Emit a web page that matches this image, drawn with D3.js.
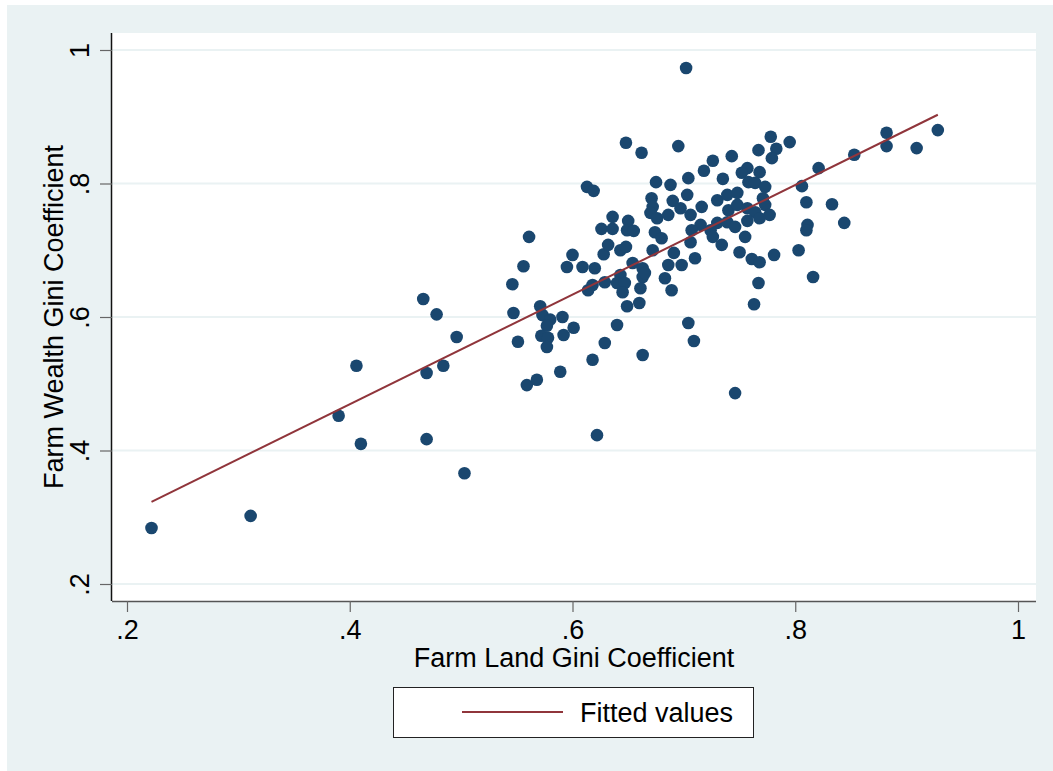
<!DOCTYPE html>
<html>
<head>
<meta charset="utf-8">
<script src="https://cdn.jsdelivr.net/npm/d3@7"></script>
<style>
  html, body { margin: 0; padding: 0; background: #fff; }
  svg { display: block; font-family: 'Liberation Sans', Arial, sans-serif; }
</style>
</head>
<body>
<div id="chart"></div>
<script>
// farm land gini (x) and farm wealth gini (y), one entry per observation
const landGini = [
  0.222, 0.311, 0.390, 0.406, 0.410, 0.466, 0.469, 0.469, 0.478, 0.484,
  0.496, 0.503, 0.561, 0.556, 0.546, 0.547, 0.571, 0.573, 0.580, 0.577,
  0.551, 0.572, 0.578, 0.577, 0.559, 0.568, 0.589, 0.591, 0.592, 0.601,
  0.600, 0.628, 0.643, 0.595, 0.609, 0.620, 0.654, 0.663, 0.663, 0.629,
  0.643, 0.640, 0.618, 0.614, 0.647, 0.645, 0.661, 0.649, 0.660, 0.640,
  0.629, 0.663, 0.618, 0.648, 0.662, 0.613, 0.619, 0.636, 0.650, 0.626,
  0.636, 0.649, 0.655, 0.632, 0.648, 0.695, 0.726, 0.743, 0.718, 0.704,
  0.675, 0.688, 0.735, 0.703, 0.671, 0.690, 0.730, 0.739, 0.748, 0.672,
  0.697, 0.716, 0.740, 0.748, 0.670, 0.676, 0.686, 0.706, 0.730, 0.715,
  0.739, 0.746, 0.707, 0.724, 0.674, 0.680, 0.706, 0.726, 0.734, 0.672,
  0.691, 0.710, 0.750, 0.686, 0.698, 0.665, 0.683, 0.689, 0.704, 0.709,
  0.778, 0.795, 0.767, 0.783, 0.779, 0.757, 0.768, 0.752, 0.758, 0.764,
  0.773, 0.771, 0.773, 0.757, 0.764, 0.777, 0.768, 0.757, 0.755, 0.761,
  0.768, 0.781, 0.803, 0.767, 0.816, 0.763, 0.928, 0.882, 0.882, 0.909,
  0.853, 0.821, 0.806, 0.810, 0.833, 0.844, 0.811, 0.810, 0.702, 0.746,
  0.622
];
const wealthGini = [
  0.284, 0.302, 0.452, 0.527, 0.410, 0.627, 0.516, 0.417, 0.604, 0.527,
  0.570, 0.366, 0.720, 0.676, 0.649, 0.606, 0.616, 0.603, 0.596, 0.587,
  0.563, 0.572, 0.569, 0.555, 0.498, 0.506, 0.518, 0.600, 0.573, 0.584,
  0.693, 0.694, 0.700, 0.675, 0.675, 0.673, 0.681, 0.673, 0.660, 0.652,
  0.663, 0.651, 0.648, 0.640, 0.651, 0.637, 0.643, 0.616, 0.621, 0.588,
  0.561, 0.543, 0.536, 0.861, 0.846, 0.795, 0.789, 0.750, 0.744, 0.732,
  0.732, 0.730, 0.729, 0.708, 0.705, 0.856, 0.834, 0.841, 0.819, 0.808,
  0.802, 0.798, 0.807, 0.783, 0.778, 0.774, 0.775, 0.783, 0.786, 0.765,
  0.763, 0.765, 0.760, 0.768, 0.756, 0.748, 0.753, 0.753, 0.741, 0.738,
  0.742, 0.735, 0.730, 0.730, 0.727, 0.718, 0.712, 0.720, 0.708, 0.700,
  0.696, 0.688, 0.697, 0.678, 0.678, 0.666, 0.658, 0.640, 0.591, 0.564,
  0.870, 0.862, 0.850, 0.852, 0.838, 0.823, 0.817, 0.816, 0.802, 0.801,
  0.795, 0.778, 0.768, 0.763, 0.757, 0.753, 0.748, 0.744, 0.720, 0.687,
  0.682, 0.693, 0.700, 0.651, 0.660, 0.619, 0.880, 0.876, 0.856, 0.853,
  0.843, 0.823, 0.796, 0.772, 0.769, 0.741, 0.738, 0.730, 0.973, 0.486,
  0.423
];

// fitted values at the ends of the x range
const fittedX = [0.222, 0.928];
const fittedY = [0.323, 0.903];

const xTicks = [0.2, 0.4, 0.6, 0.8, 1];
const yTicks = [0.2, 0.4, 0.6, 0.8, 1];
const tickLabels = ['.2', '.4', '.6', '.8', '1'];

const W = 1053, H = 771;
const plot = { left: 112, top: 33, right: 1036, bottom: 601 };
const fontSize = 27;

const navy = '#1a476f', maroon = '#90353b', grid = '#eaf2f3';

const svg = d3.select('#chart').
  append('svg').
  attr('width', W).
  attr('height', H);

// outer graph region + white plot region
svg.append('rect').attr('x', 7).attr('y', 5).attr('width', W - 7).attr('height', H - 5).attr('fill', grid);
svg.append('rect').
  attr('x', plot.left).attr('y', plot.top).
  attr('width', plot.right - plot.left).attr('height', plot.bottom - plot.top).
  attr('fill', '#fff');

const x = d3.scaleLinear().domain([0.2, 1]).range([127, 1018]);
const y = d3.scaleLinear().domain([0.2, 1]).range([584, 50]);

// horizontal grid lines
svg.append('g').selectAll('line').
  data(yTicks).
  enter().append('line').
    attr('x1', plot.left).attr('x2', plot.right).
    attr('y1', d => y(d)).attr('y2', d => y(d)).
    attr('stroke', grid).attr('stroke-width', 2);

// axes
const xAxis = d3.axisBottom(x).tickValues(xTicks).tickSize(11).tickPadding(8).
  tickFormat((d, i) => tickLabels[i]);
const gx = svg.append('g').attr('transform', 'translate(0,' + plot.bottom + ')').call(xAxis);
gx.select('.domain').attr('d', 'M' + plot.left + ',0.5H' + plot.right).attr('stroke', '#555').attr('stroke-width', 1.5);
gx.selectAll('.tick line').attr('stroke', '#666').attr('stroke-width', 1.2);
gx.selectAll('.tick text').attr('font-size', fontSize).attr('fill', '#000').
  attr('font-family', "'Liberation Sans', Arial, sans-serif");

const yAxis = d3.axisLeft(y).tickValues(yTicks).tickSize(12).tickFormat((d, i) => tickLabels[i]);
const gy = svg.append('g').attr('transform', 'translate(' + plot.left + ',0)').call(yAxis);
gy.select('.domain').attr('d', 'M-0.5,' + plot.top + 'V' + plot.bottom).attr('stroke', '#111').attr('stroke-width', 1.5);
gy.selectAll('.tick line').attr('stroke', '#666').attr('stroke-width', 1.2);
gy.selectAll('.tick text').
  attr('font-size', fontSize).attr('fill', '#000').
  attr('font-family', "'Liberation Sans', Arial, sans-serif").
  attr('x', null).attr('dy', null).
  attr('text-anchor', 'middle').
  attr('transform', 'translate(-23,0) rotate(-90)');

// points
svg.append('g').selectAll('circle').
  data(landGini).
  enter().append('circle').
    attr('cx', d => x(d)).
    attr('cy', (d, i) => y(wealthGini[i])).
    attr('r', 6.3).
    attr('fill', navy);

// fitted line
const line = d3.line().x(d => x(d[0])).y(d => y(d[1]));
svg.append('path').
  datum(fittedX.map((d, i) => [d, fittedY[i]])).
  attr('d', line).
  attr('fill', 'none').
  attr('stroke', maroon).
  attr('stroke-width', 2);

// axis titles
svg.append('text').
  attr('x', (plot.left + plot.right) / 2).attr('y', 667).
  attr('text-anchor', 'middle').attr('font-size', fontSize).
  text('Farm Land Gini Coefficient');
svg.append('text').
  attr('transform', 'translate(63,' + (plot.top + plot.bottom) / 2 + ') rotate(-90)').
  attr('text-anchor', 'middle').attr('font-size', fontSize).
  text('Farm Wealth Gini Coefficient');

// legend
const legend = svg.append('g');
legend.append('rect').
  attr('x', 393.5).attr('y', 687.5).attr('width', 360).attr('height', 50).
  attr('fill', '#fff').attr('stroke', '#222').attr('stroke-width', 1);
legend.append('line').
  attr('x1', 462).attr('x2', 563).attr('y1', 712).attr('y2', 712).
  attr('stroke', maroon).attr('stroke-width', 2);
legend.append('text').
  attr('x', 580).attr('y', 722).attr('font-size', fontSize).
  text('Fitted values');
</script>
</body>
</html>
